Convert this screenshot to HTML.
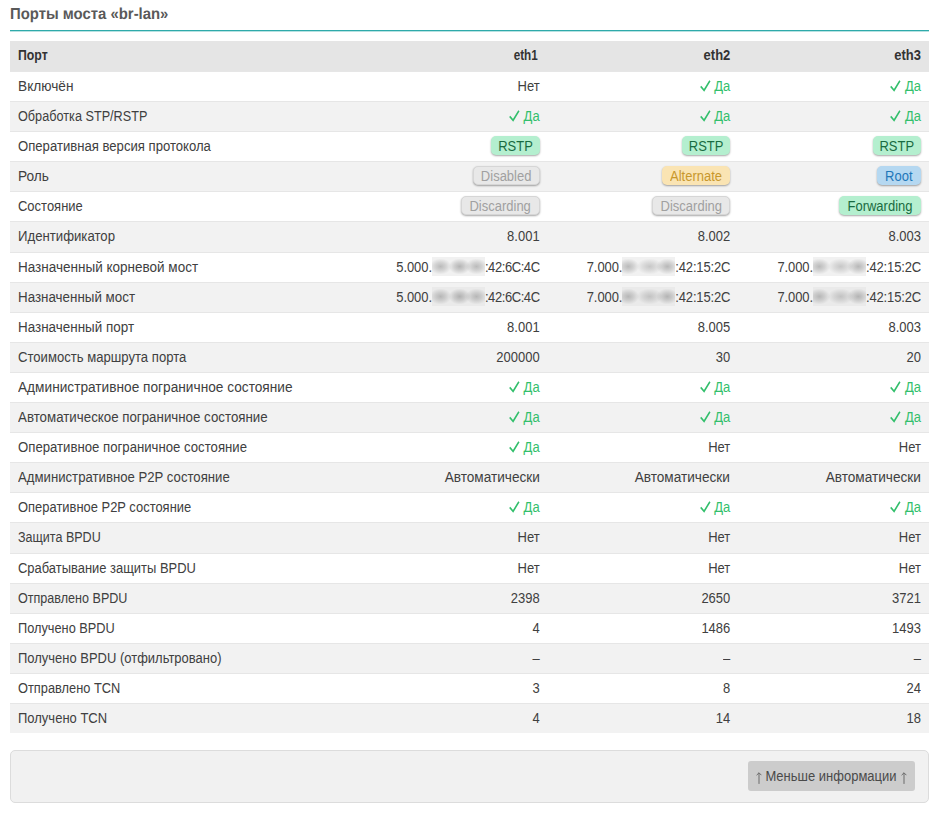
<!DOCTYPE html>
<html><head><meta charset="utf-8"><title>Порты моста</title>
<style>
html,body{margin:0;padding:0;background:#fff;}
body{width:941px;height:815px;overflow:hidden;position:relative;font-family:"Liberation Sans",sans-serif;color:#404040;}
h3{position:absolute;left:10px;top:0;margin:0;width:919px;height:30px;font-size:16px;font-weight:bold;color:#595959;}
h3 span{position:absolute;left:0;top:6px;line-height:18px;white-space:nowrap;transform:scaleX(0.93);transform-origin:0 14.5px;text-rendering:geometricPrecision;}
.ln{position:absolute;left:10px;top:30px;width:919px;height:1px;background:#2faaaa;}
.ln2{position:absolute;left:10px;top:31px;width:919px;height:1px;background:#b7e2e2;}
table{position:absolute;left:10px;top:41px;width:919px;border-collapse:collapse;table-layout:fixed;font-size:13px;}
col.c1{width:347px;}
td,th{padding:0 8px;box-sizing:border-box;white-space:nowrap;vertical-align:top;text-align:right;}
td{padding-top:7px;}
td:first-child,th:first-child{text-align:left;}
th{height:30px;vertical-align:middle;font-weight:bold;font-size:13px;background:#e5e5e5;color:#333;}
tr.w td{background:#fff;border-top:1px solid #e6e6e6;}
tr.z td{background:#f2f2f2;border-top:1px solid #e6e6e6;}
.t{display:inline-block;line-height:15px;transform:scaleY(1.12);transform-origin:0 12px;vertical-align:top;}
.h{display:inline-block;line-height:15px;transform:scaleY(1.06);transform-origin:0 12px;vertical-align:middle;position:relative;top:-1px;}
.ok{color:#33bf6c;}
.ok svg{vertical-align:-1px;margin-right:3.6px;}
.b{display:inline-block;box-sizing:border-box;height:18.6px;line-height:18.6px;border-radius:5px;text-align:center;font-size:13px;box-shadow:0 1px 2px rgba(0,0,0,.35);vertical-align:middle;position:relative;top:-2.3px;}
.bi{display:inline-block;transform:scaleY(1.1);transform-origin:0 13.8px;position:relative;top:1.7px;}
.b.n .bi{transform-origin:0 12.8px;top:2px;}
.b.g{background:#b4efcf;color:#196b41;}
.b.n{background:#e8e8e8;color:#a0a0a0;border:1px solid #d6d6d6;line-height:16.6px;}
.b.y{background:#fae4b3;color:#c8972c;}
.b.u{background:#b5d8f1;color:#1f77b9;}
.bl{display:inline-block;height:19px;vertical-align:middle;background-color:#f1f1f1;position:relative;top:-2.5px;}
tr.z .bl{background-color:#eaeaea;}
.mp{letter-spacing:-0.42px;}
.box{position:absolute;left:10px;top:750px;width:919px;height:53px;box-sizing:border-box;background:#f1f1f1;border:1px solid #dcdcdc;border-radius:5px;}
.btn{position:absolute;left:737px;top:10px;width:167px;height:30px;background:#cccccc;border-radius:3px;color:#4a4a4a;font-size:13px;}
.btn .bt{position:absolute;left:17.4px;top:7.7px;white-space:nowrap;}
.ar{position:absolute;top:11px;}
</style></head><body>
<h3><span>Порты моста «br-lan»</span></h3>
<div class="ln"></div><div class="ln2"></div>
<table>
<colgroup><col class="c1"><col><col><col></colgroup>
<tr><th><span class="h" style="transform:scale(0.945,1.06)">Порт</span></th><th><span class="h" style="transform:scale(0.9,1.06);transform-origin:100% 12px;left:-2px">eth1</span></th><th><span class="h">eth2</span></th><th><span class="h">eth3</span></th></tr>
<tr class="w" style="height:30px"><td><span class="t" style="transform:scale(1.0529,1.12)">Включён</span></td><td><span class="t">Нет</span></td><td><span class="t"><span class="ok"><svg width="11" height="11" viewBox="0 0 11 11"><path d="M0.7 5.9 L4.1 9.4 L9.9 0.9" fill="none" stroke="#33bf6c" stroke-width="1.55" stroke-linejoin="miter" stroke-linecap="butt"/></svg>Да</span></span></td><td><span class="t"><span class="ok"><svg width="11" height="11" viewBox="0 0 11 11"><path d="M0.7 5.9 L4.1 9.4 L9.9 0.9" fill="none" stroke="#33bf6c" stroke-width="1.55" stroke-linejoin="miter" stroke-linecap="butt"/></svg>Да</span></span></td></tr>
<tr class="z" style="height:30px"><td><span class="t" style="transform:scale(0.975,1.12)">Обработка STP/RSTP</span></td><td><span class="t"><span class="ok"><svg width="11" height="11" viewBox="0 0 11 11"><path d="M0.7 5.9 L4.1 9.4 L9.9 0.9" fill="none" stroke="#33bf6c" stroke-width="1.55" stroke-linejoin="miter" stroke-linecap="butt"/></svg>Да</span></span></td><td><span class="t"><span class="ok"><svg width="11" height="11" viewBox="0 0 11 11"><path d="M0.7 5.9 L4.1 9.4 L9.9 0.9" fill="none" stroke="#33bf6c" stroke-width="1.55" stroke-linejoin="miter" stroke-linecap="butt"/></svg>Да</span></span></td><td><span class="t"><span class="ok"><svg width="11" height="11" viewBox="0 0 11 11"><path d="M0.7 5.9 L4.1 9.4 L9.9 0.9" fill="none" stroke="#33bf6c" stroke-width="1.55" stroke-linejoin="miter" stroke-linecap="butt"/></svg>Да</span></span></td></tr>
<tr class="w" style="height:30px"><td><span class="t" style="transform:scale(1.0089,1.12)">Оперативная версия протокола</span></td><td><span class="b g" style="width:48.4px"><span class="bi">RSTP</span></span></td><td><span class="b g" style="width:48.4px"><span class="bi">RSTP</span></span></td><td><span class="b g" style="width:48.4px"><span class="bi">RSTP</span></span></td></tr>
<tr class="z" style="height:30px"><td><span class="t" style="transform:scale(1.0536,1.12)">Роль</span></td><td><span class="b n" style="width:67px"><span class="bi">Disabled</span></span></td><td><span class="b y" style="width:68.5px"><span class="bi">Alternate</span></span></td><td><span class="b u" style="width:44.4px"><span class="bi">Root</span></span></td></tr>
<tr class="w" style="height:30px"><td><span class="t" style="transform:scale(0.9985,1.12)">Состояние</span></td><td><span class="b n" style="width:79px"><span class="bi">Discarding</span></span></td><td><span class="b n" style="width:78px"><span class="bi">Discarding</span></span></td><td><span class="b g" style="width:82px"><span class="bi">Forwarding</span></span></td></tr>
<tr class="z" style="height:31px"><td><span class="t" style="transform:scale(1.0137,1.12)">Идентификатор</span></td><td><span class="t">8.001</span></td><td><span class="t">8.002</span></td><td><span class="t">8.003</span></td></tr>
<tr class="w" style="height:30px"><td><span class="t" style="transform:scale(1.039,1.12)">Назначенный корневой мост</span></td><td><span class="t" style="letter-spacing:-0.1px">5.000.</span><span class="bl" style="width:53px;background-image:radial-gradient(ellipse 11px 8px at 8.5px 9.5px, rgba(120,120,120,0.45) 0%, rgba(120,120,120,0.25) 50%, rgba(120,120,120,0) 100%),radial-gradient(ellipse 11px 8px at 27.6px 9.5px, rgba(120,120,120,0.5) 0%, rgba(120,120,120,0.28) 50%, rgba(120,120,120,0) 100%),radial-gradient(ellipse 11px 8px at 44.5px 9.5px, rgba(120,120,120,0.45) 0%, rgba(120,120,120,0.25) 50%, rgba(120,120,120,0) 100%)"></span><span class="t" style="letter-spacing:-0.42px">:42:6C:4C</span></td><td><span class="t" style="letter-spacing:-0.1px">7.000.</span><span class="bl" style="width:53px;background-image:radial-gradient(ellipse 11px 8px at 6.3px 9.5px, rgba(120,120,120,0.45) 0%, rgba(120,120,120,0.25) 50%, rgba(120,120,120,0) 100%),radial-gradient(ellipse 13px 8px at 27.6px 9.5px, rgba(120,120,120,0.35) 0%, rgba(120,120,120,0.19) 50%, rgba(120,120,120,0) 100%),radial-gradient(ellipse 11px 8px at 45.3px 9.5px, rgba(120,120,120,0.48) 0%, rgba(120,120,120,0.26) 50%, rgba(120,120,120,0) 100%)"></span><span class="t" style="letter-spacing:-0.15px">:42:15:2C</span></td><td><span class="t" style="letter-spacing:-0.1px">7.000.</span><span class="bl" style="width:53px;background-image:radial-gradient(ellipse 11px 8px at 6.3px 9.5px, rgba(120,120,120,0.45) 0%, rgba(120,120,120,0.25) 50%, rgba(120,120,120,0) 100%),radial-gradient(ellipse 13px 8px at 27.6px 9.5px, rgba(120,120,120,0.35) 0%, rgba(120,120,120,0.19) 50%, rgba(120,120,120,0) 100%),radial-gradient(ellipse 11px 8px at 45.3px 9.5px, rgba(120,120,120,0.48) 0%, rgba(120,120,120,0.26) 50%, rgba(120,120,120,0) 100%)"></span><span class="t" style="letter-spacing:-0.15px">:42:15:2C</span></td></tr>
<tr class="z" style="height:30px"><td><span class="t" style="transform:scale(1.0292,1.12)">Назначенный мост</span></td><td><span class="t" style="letter-spacing:-0.1px">5.000.</span><span class="bl" style="width:53px;background-image:radial-gradient(ellipse 11px 8px at 8.5px 9.5px, rgba(120,120,120,0.45) 0%, rgba(120,120,120,0.25) 50%, rgba(120,120,120,0) 100%),radial-gradient(ellipse 11px 8px at 27.6px 9.5px, rgba(120,120,120,0.5) 0%, rgba(120,120,120,0.28) 50%, rgba(120,120,120,0) 100%),radial-gradient(ellipse 11px 8px at 44.5px 9.5px, rgba(120,120,120,0.45) 0%, rgba(120,120,120,0.25) 50%, rgba(120,120,120,0) 100%)"></span><span class="t" style="letter-spacing:-0.42px">:42:6C:4C</span></td><td><span class="t" style="letter-spacing:-0.1px">7.000.</span><span class="bl" style="width:53px;background-image:radial-gradient(ellipse 11px 8px at 6.3px 9.5px, rgba(120,120,120,0.45) 0%, rgba(120,120,120,0.25) 50%, rgba(120,120,120,0) 100%),radial-gradient(ellipse 13px 8px at 27.6px 9.5px, rgba(120,120,120,0.35) 0%, rgba(120,120,120,0.19) 50%, rgba(120,120,120,0) 100%),radial-gradient(ellipse 11px 8px at 45.3px 9.5px, rgba(120,120,120,0.48) 0%, rgba(120,120,120,0.26) 50%, rgba(120,120,120,0) 100%)"></span><span class="t" style="letter-spacing:-0.15px">:42:15:2C</span></td><td><span class="t" style="letter-spacing:-0.1px">7.000.</span><span class="bl" style="width:53px;background-image:radial-gradient(ellipse 11px 8px at 6.3px 9.5px, rgba(120,120,120,0.45) 0%, rgba(120,120,120,0.25) 50%, rgba(120,120,120,0) 100%),radial-gradient(ellipse 13px 8px at 27.6px 9.5px, rgba(120,120,120,0.35) 0%, rgba(120,120,120,0.19) 50%, rgba(120,120,120,0) 100%),radial-gradient(ellipse 11px 8px at 45.3px 9.5px, rgba(120,120,120,0.48) 0%, rgba(120,120,120,0.26) 50%, rgba(120,120,120,0) 100%)"></span><span class="t" style="letter-spacing:-0.15px">:42:15:2C</span></td></tr>
<tr class="w" style="height:30px"><td><span class="t" style="transform:scale(1.0333,1.12)">Назначенный порт</span></td><td><span class="t">8.001</span></td><td><span class="t">8.005</span></td><td><span class="t">8.003</span></td></tr>
<tr class="z" style="height:30px"><td><span class="t" style="transform:scale(1.0078,1.12)">Стоимость маршрута порта</span></td><td><span class="t">200000</span></td><td><span class="t">30</span></td><td><span class="t">20</span></td></tr>
<tr class="w" style="height:30px"><td><span class="t" style="transform:scale(1.0521,1.12)">Административное пограничное состояние</span></td><td><span class="t"><span class="ok"><svg width="11" height="11" viewBox="0 0 11 11"><path d="M0.7 5.9 L4.1 9.4 L9.9 0.9" fill="none" stroke="#33bf6c" stroke-width="1.55" stroke-linejoin="miter" stroke-linecap="butt"/></svg>Да</span></span></td><td><span class="t"><span class="ok"><svg width="11" height="11" viewBox="0 0 11 11"><path d="M0.7 5.9 L4.1 9.4 L9.9 0.9" fill="none" stroke="#33bf6c" stroke-width="1.55" stroke-linejoin="miter" stroke-linecap="butt"/></svg>Да</span></span></td><td><span class="t"><span class="ok"><svg width="11" height="11" viewBox="0 0 11 11"><path d="M0.7 5.9 L4.1 9.4 L9.9 0.9" fill="none" stroke="#33bf6c" stroke-width="1.55" stroke-linejoin="miter" stroke-linecap="butt"/></svg>Да</span></span></td></tr>
<tr class="z" style="height:30px"><td><span class="t" style="transform:scale(1.0238,1.12)">Автоматическое пограничное состояние</span></td><td><span class="t"><span class="ok"><svg width="11" height="11" viewBox="0 0 11 11"><path d="M0.7 5.9 L4.1 9.4 L9.9 0.9" fill="none" stroke="#33bf6c" stroke-width="1.55" stroke-linejoin="miter" stroke-linecap="butt"/></svg>Да</span></span></td><td><span class="t"><span class="ok"><svg width="11" height="11" viewBox="0 0 11 11"><path d="M0.7 5.9 L4.1 9.4 L9.9 0.9" fill="none" stroke="#33bf6c" stroke-width="1.55" stroke-linejoin="miter" stroke-linecap="butt"/></svg>Да</span></span></td><td><span class="t"><span class="ok"><svg width="11" height="11" viewBox="0 0 11 11"><path d="M0.7 5.9 L4.1 9.4 L9.9 0.9" fill="none" stroke="#33bf6c" stroke-width="1.55" stroke-linejoin="miter" stroke-linecap="butt"/></svg>Да</span></span></td></tr>
<tr class="w" style="height:30px"><td><span class="t" style="transform:scale(1.0133,1.12)">Оперативное пограничное состояние</span></td><td><span class="t"><span class="ok"><svg width="11" height="11" viewBox="0 0 11 11"><path d="M0.7 5.9 L4.1 9.4 L9.9 0.9" fill="none" stroke="#33bf6c" stroke-width="1.55" stroke-linejoin="miter" stroke-linecap="butt"/></svg>Да</span></span></td><td><span class="t">Нет</span></td><td><span class="t">Нет</span></td></tr>
<tr class="z" style="height:30px"><td><span class="t" style="transform:scale(1.0134,1.12)">Административное P2P состояние</span></td><td><span class="t" style="transform:scale(1.048,1.12);transform-origin:100% 12px">Автоматически</span></td><td><span class="t" style="transform:scale(1.048,1.12);transform-origin:100% 12px">Автоматически</span></td><td><span class="t" style="transform:scale(1.048,1.12);transform-origin:100% 12px">Автоматически</span></td></tr>
<tr class="w" style="height:30px"><td><span class="t" style="transform:scale(0.9954,1.12)">Оперативное P2P состояние</span></td><td><span class="t"><span class="ok"><svg width="11" height="11" viewBox="0 0 11 11"><path d="M0.7 5.9 L4.1 9.4 L9.9 0.9" fill="none" stroke="#33bf6c" stroke-width="1.55" stroke-linejoin="miter" stroke-linecap="butt"/></svg>Да</span></span></td><td><span class="t"><span class="ok"><svg width="11" height="11" viewBox="0 0 11 11"><path d="M0.7 5.9 L4.1 9.4 L9.9 0.9" fill="none" stroke="#33bf6c" stroke-width="1.55" stroke-linejoin="miter" stroke-linecap="butt"/></svg>Да</span></span></td><td><span class="t"><span class="ok"><svg width="11" height="11" viewBox="0 0 11 11"><path d="M0.7 5.9 L4.1 9.4 L9.9 0.9" fill="none" stroke="#33bf6c" stroke-width="1.55" stroke-linejoin="miter" stroke-linecap="butt"/></svg>Да</span></span></td></tr>
<tr class="z" style="height:31px"><td><span class="t" style="transform:scale(0.9635,1.12)">Защита BPDU</span></td><td><span class="t">Нет</span></td><td><span class="t">Нет</span></td><td><span class="t">Нет</span></td></tr>
<tr class="w" style="height:30px"><td><span class="t" style="transform:scale(0.9955,1.12)">Срабатывание защиты BPDU</span></td><td><span class="t">Нет</span></td><td><span class="t">Нет</span></td><td><span class="t">Нет</span></td></tr>
<tr class="z" style="height:30px"><td><span class="t" style="transform:scale(0.9673,1.12)">Отправлено BPDU</span></td><td><span class="t">2398</span></td><td><span class="t">2650</span></td><td><span class="t">3721</span></td></tr>
<tr class="w" style="height:30px"><td><span class="t" style="transform:scale(0.9825,1.12)">Получено BPDU</span></td><td><span class="t">4</span></td><td><span class="t">1486</span></td><td><span class="t">1493</span></td></tr>
<tr class="z" style="height:30px"><td><span class="t" style="transform:scale(0.9985,1.12)">Получено BPDU (отфильтровано)</span></td><td><span class="t">–</span></td><td><span class="t">–</span></td><td><span class="t">–</span></td></tr>
<tr class="w" style="height:30px"><td><span class="t" style="transform:scale(0.9854,1.12)">Отправлено TCN</span></td><td><span class="t">3</span></td><td><span class="t">8</span></td><td><span class="t">24</span></td></tr>
<tr class="z" style="height:30px"><td><span class="t" style="transform:scale(1.0,1.12)">Получено TCN</span></td><td><span class="t">4</span></td><td><span class="t">14</span></td><td><span class="t">18</span></td></tr>
</table>
<div class="box"><div class="btn"><svg class="ar" style="left:7.5px" width="6" height="13" viewBox="0 0 6 13"><path d="M3 0.8V11.9M0.6 3.2L3 0.8L5.4 3.2" fill="none" stroke="#6a6a6a" stroke-width="1"/></svg><span class="t bt">Меньше информации</span><svg class="ar" style="left:152.5px" width="6" height="13" viewBox="0 0 6 13"><path d="M3 0.8V11.9M0.6 3.2L3 0.8L5.4 3.2" fill="none" stroke="#6a6a6a" stroke-width="1"/></svg></div></div>
</body></html>
